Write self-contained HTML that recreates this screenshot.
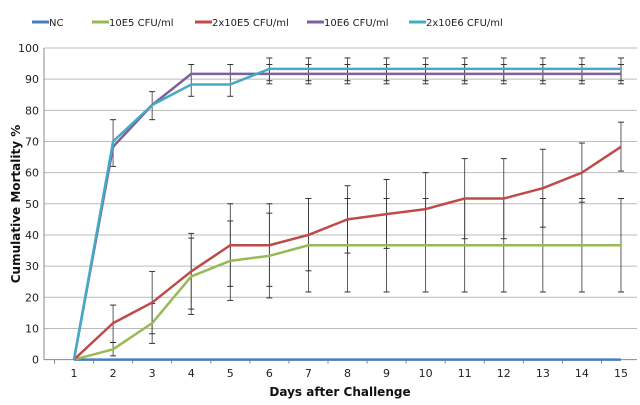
<!DOCTYPE html>
<html><head><meta charset="utf-8"><style>
html,body{margin:0;padding:0;background:#fff;width:640px;height:405px;overflow:hidden}
svg{display:block;font-family:"DejaVu Sans","Liberation Sans",sans-serif}
</style></head><body>
<svg id="s" width="640" height="405" viewBox="0 0 640 405"></svg>
<script>
const s=document.getElementById('s');
const X=d=>74+(d-1)*39.07, Y=v=>359.6-v*3.116;
let h='';
for(let v=0;v<=100;v+=10){h+=`<line x1="44" x2="637" y1="${Y(v)}" y2="${Y(v)}" stroke="${v==0?'#888':'#bbb'}" stroke-width="1"/>`;
h+=`<text x="39" y="${Y(v)+4}" font-size="11" text-anchor="end" fill="#222">${v}</text>`;}
h+=`<line x1="44" x2="44" y1="${Y(100)}" y2="${Y(0)}" stroke="#888"/>`;
for(let d=1;d<=15;d++){h+=`<text x="${X(d)}" y="377" font-size="11" text-anchor="middle" fill="#222">${d}</text>`;
h+=`<line x1="${X(d)-19.5}" x2="${X(d)-19.5}" y1="${Y(0)}" y2="${Y(0)+4}" stroke="#888"/>`;}
h+=`<text x="340" y="396" font-size="12" font-weight="bold" text-anchor="middle" fill="#111">Days after Challenge</text>`;
h+=`<text transform="translate(20,204) rotate(-90)" font-size="12" font-weight="bold" text-anchor="middle" fill="#111">Cumulative Mortality %</text>`;
function eb(d,lo,hi){const x=X(d);h+=`<line x1="${x}" x2="${x}" y1="${Y(lo)}" y2="${Y(hi)}" stroke="#333" stroke-width="0.8"/><line x1="${x-3}" x2="${x+3}" y1="${Y(lo)}" y2="${Y(lo)}" stroke="#333"/><line x1="${x-3}" x2="${x+3}" y1="${Y(hi)}" y2="${Y(hi)}" stroke="#333"/>`;}
const red=[[2,5.5,17.5],[3,8.3,28.3],[4,16.2,40.5],[5,23.5,50],[6,23.5,50],[7,28.5,51.7],[8,34.2,55.8],[9,35.7,57.8],[10,36.7,60],[11,38.8,64.5],[12,38.8,64.5],[13,42.5,67.5],[14,50.5,69.5],[15,60.5,76.2]];
const grn=[[2,1.2,5.5],[3,5.2,18],[4,14.5,39],[5,19,44.5],[6,19.8,47]];for(let d=7;d<=15;d++)grn.push([d,21.7,51.7]);
const pur=[[2,62,77],[3,77,86],[4,84.5,94.7],[5,84.5,94.7]];for(let d=6;d<=15;d++){pur.push([d,88.5,96.8]);pur.push([d,89.5,94.7]);}
[...red,...grn,...pur].forEach(a=>eb(...a));
function line(vals,c){h+=`<polyline fill="none" stroke="${c}" stroke-width="2.5" stroke-linejoin="round" points="${vals.map((v,i)=>X(i+1)+','+Y(v)).join(' ')}"/>`;}
line(Array(15).fill(0),'#4a7ebb');
line([0,3.3,11.7,26.7,31.7,33.3,36.7,36.7,36.7,36.7,36.7,36.7,36.7,36.7,36.7],'#98b954');
line([0,11.7,18.3,28.3,36.7,36.7,40,45,46.7,48.3,51.7,51.7,55,60,68.3],'#be4b48');
line([0,68.3,81.7,91.7,91.7,91.7,91.7,91.7,91.7,91.7,91.7,91.7,91.7,91.7,91.7],'#7d60a0');
line([0,70,81.7,88.3,88.3,93.3,93.3,93.3,93.3,93.3,93.3,93.3,93.3,93.3,93.3],'#46aac5');
const L=[[32,'NC','#4a7ebb'],[92,'10E5 CFU/ml','#98b954'],[195,'2x10E5 CFU/ml','#be4b48'],[307,'10E6 CFU/ml','#7d60a0'],[409,'2x10E6 CFU/ml','#46aac5']];
L.forEach(([x,t,c])=>{h+=`<line x1="${x}" x2="${x+17}" y1="22" y2="22" stroke="${c}" stroke-width="3"/><text x="${x+17}" y="26" font-size="10" fill="#222">${t}</text>`;});
s.innerHTML=h;
</script>
</body></html>
